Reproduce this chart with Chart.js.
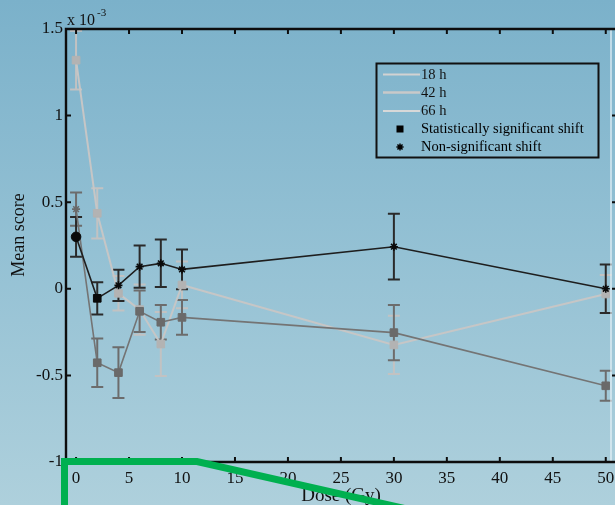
<!DOCTYPE html>
<html>
<head>
<meta charset="utf-8">
<script src="https://cdn.jsdelivr.net/npm/chart.js@4.4.1/dist/chart.umd.min.js"></script>
<style>
  html, body { margin: 0; padding: 0; width: 615px; height: 505px; overflow: hidden; }
  body { background: linear-gradient(180deg, #7bb1ca 0%, #94c1d4 50%, #aed0dc 100%); }
  canvas { display: block; }
</style>
</head>
<body>
<canvas id="chart" width="615" height="505"></canvas>
<script>
// Dose levels (Gy)
const doses = [0, 2, 4, 6, 8, 10, 30, 50];

// Mean score (x 10^-3) and its error, per time point
const mean18h = [0.30, -0.055, 0.02, 0.128, 0.147, 0.112, 0.243, 0.0];
const err18h  = [0.115, 0.093, 0.09, 0.122, 0.137, 0.115, 0.19, 0.14];
const mean42h = [0.46, -0.427, -0.484, -0.13, -0.193, -0.165, -0.253, -0.56];
const err42h  = [0.096, 0.14, 0.147, 0.12, 0.1, 0.1, 0.16, 0.087];
const mean66h = [1.32, 0.436, -0.026, -0.12, -0.319, 0.022, -0.324, -0.03];
const err66h  = [0.17, 0.145, 0.1, 0.145, 0.185, 0.135, 0.168, 0.11];

// Shift significance per point: 'sig' = square, 'ns' = asterisk, 'ctl' = circle
const shift18h = ['ctl', 'sig', 'ns', 'ns', 'ns', 'ns', 'ns', 'ns'];
const shift42h = ['ns', 'sig', 'sig', 'sig', 'sig', 'sig', 'sig', 'sig'];
const shift66h = ['sig', 'sig', 'sig', 'sig', 'sig', 'sig', 'sig', 'sig'];

const seriesLabels = ['18 h', '42 h', '66 h'];
const legendMarkerLabels = ['Statistically significant shift', 'Non-significant shift'];

// Tick labels
const xTickValues = [0, 5, 10, 15, 20, 25, 30, 35, 40, 45, 50];
const yTickValues = [-1, -0.5, 0, 0.5, 1, 1.5];

const SERIF = "'Liberation Serif', 'Times New Roman', serif";

const styleFor = s => s === 'sig' ? 'rect' : (s === 'ns' ? 'star' : 'circle');
const radiusFor = s => s === 'sig' ? 5.4 : (s === 'ns' ? 4 : 4.8);

function makeDataset(label, means, errs, shifts, color, markerFill, lineWidth) {
  return {
    label,
    data: doses.map((d, i) => ({ x: d, y: means[i] })),
    errors: errs,
    borderColor: color,
    borderWidth: lineWidth,
    pointStyle: shifts.map(styleFor),
    pointRadius: shifts.map(radiusFor),
    pointHoverRadius: shifts.map(radiusFor),
    pointBackgroundColor: markerFill,
    pointBorderColor: markerFill,
    pointBorderWidth: shifts.map(s => s === 'ns' ? 1.6 : 1),
    tension: 0,
    fill: false
  };
}

const datasets = [
  makeDataset(seriesLabels[0], mean18h, err18h, shift18h, '#1e1e1e', '#0a0a0a', 1.6),
  makeDataset(seriesLabels[1], mean42h, err42h, shift42h, '#747474', '#6a6a6a', 1.6),
  makeDataset(seriesLabels[2], mean66h, err66h, shift66h, '#c6c6c6', '#b3b3b3', 2)
];
const errorColors = ['#2a2a2a', '#6c6c6c', '#c2c2c2'];

// Vertical error bars with caps, drawn beneath the lines and markers
const errorBars = {
  id: 'errorBars',
  beforeDatasetsDraw(chart) {
    const { ctx, scales: { x, y } } = chart;
    ctx.save();
    for (let k = chart.data.datasets.length - 1; k >= 0; k--) {
      const ds = chart.data.datasets[k];
      ctx.strokeStyle = errorColors[k];
      ctx.lineWidth = 2;
      ds.data.forEach((p, i) => {
        const e = ds.errors[i];
        const px = x.getPixelForValue(p.x);
        const top = y.getPixelForValue(p.y + e);
        const bot = y.getPixelForValue(p.y - e);
        ctx.beginPath();
        ctx.moveTo(px, top); ctx.lineTo(px, bot);
        ctx.moveTo(px - 6, top); ctx.lineTo(px + 6, top);
        ctx.moveTo(px - 6, bot); ctx.lineTo(px + 6, bot);
        ctx.stroke();
      });
    }
    ctx.restore();
  }
};

// Axis frame, inward ticks, titles, exponent note, legend box and the green overlay stroke
const frame = {
  id: 'frame',
  afterDraw(chart) {
    const { ctx, chartArea: a, scales: { x, y } } = chart;
    ctx.save();
    // faint right edge
    ctx.strokeStyle = 'rgba(235,245,250,0.8)';
    ctx.lineWidth = 1.5;
    ctx.beginPath(); ctx.moveTo(a.right + 1, a.top); ctx.lineTo(a.right + 1, a.bottom); ctx.stroke();

    ctx.strokeStyle = '#0d0d0d';
    ctx.lineWidth = 2.4;
    ctx.beginPath();
    ctx.moveTo(615, a.top); ctx.lineTo(a.left, a.top);
    ctx.lineTo(a.left, a.bottom); ctx.lineTo(615, a.bottom);
    ctx.stroke();

    ctx.lineWidth = 2;
    ctx.beginPath();
    xTickValues.forEach(v => {
      const px = x.getPixelForValue(v);
      ctx.moveTo(px, a.bottom); ctx.lineTo(px, a.bottom - 5);
      ctx.moveTo(px, a.top); ctx.lineTo(px, a.top + 5);
    });
    yTickValues.forEach(v => {
      const py = y.getPixelForValue(v);
      ctx.moveTo(a.left, py); ctx.lineTo(a.left + 5, py);
      ctx.moveTo(a.right + 2, py); ctx.lineTo(615, py);
    });
    ctx.stroke();

    ctx.fillStyle = '#111';
    // exponent note
    ctx.font = `16px ${SERIF}`;
    ctx.textAlign = 'left';
    ctx.textBaseline = 'alphabetic';
    ctx.fillText('x 10', 67, 25);
    ctx.font = `11px ${SERIF}`;
    ctx.fillText('-3', 97, 16);

    // axis titles
    ctx.font = `18px ${SERIF}`;
    ctx.textAlign = 'center';
    ctx.textBaseline = 'middle';
    ctx.save();
    ctx.translate(19, 235);
    ctx.rotate(-Math.PI / 2);
    ctx.fillText('Mean score', 0, 0);
    ctx.restore();
    ctx.font = `19px ${SERIF}`;
    ctx.fillText('Dose (Gy)', 341, 496);

    // legend
    ctx.lineWidth = 2;
    ctx.strokeStyle = '#111';
    ctx.strokeRect(376.5, 63.5, 222, 94);
    const legendLineColors = ['#d2d2d2', '#c9c9c9', '#d8d8d8'];
    const rowsY = [74.5, 92.5, 111];
    ctx.font = `14.5px ${SERIF}`;
    ctx.textAlign = 'left';
    seriesLabels.forEach((lab, i) => {
      ctx.strokeStyle = legendLineColors[i];
      ctx.lineWidth = i === 1 ? 2.6 : 2;
      ctx.beginPath(); ctx.moveTo(383, rowsY[i]); ctx.lineTo(420, rowsY[i]); ctx.stroke();
      ctx.fillStyle = '#111';
      ctx.fillText(lab, 421, rowsY[i] + 0.5);
    });
    ctx.fillStyle = '#000';
    ctx.fillRect(396.5, 125.5, 7, 7);
    ctx.fillText(legendMarkerLabels[0], 421, 129.5);
    ctx.strokeStyle = '#000';
    ctx.lineWidth = 1.5;
    Chart.helpers.drawPoint(ctx, { pointStyle: 'star', radius: 3.6, borderWidth: 1.5 }, 400, 147);
    ctx.fillText(legendMarkerLabels[1], 421, 147.5);

    // green overlay stroke
    ctx.strokeStyle = '#00b050';
    ctx.lineWidth = 7;
    ctx.lineJoin = 'miter';
    ctx.beginPath();
    ctx.moveTo(64.5, 512);
    ctx.lineTo(64.5, 461.5);
    ctx.lineTo(197, 461.5);
    ctx.lineTo(420, 512);
    ctx.stroke();
    ctx.restore();
  }
};

new Chart(document.getElementById('chart'), {
  type: 'line',
  data: { datasets },
  options: {
    responsive: false,
    animation: false,
    events: [],
    layout: { autoPadding: false, padding: { top: 29, right: 5, left: 0, bottom: 0 } },
    plugins: { legend: { display: false }, tooltip: { enabled: false } },
    scales: {
      x: {
        type: 'linear',
        min: -0.95,
        max: 50.4,
        afterBuildTicks: s => { s.ticks = xTickValues.map(v => ({ value: v })); },
        afterFit: s => { s.height = 43; s.paddingLeft = 0; s.paddingRight = 0; },
        grid: { display: false, drawTicks: false },
        border: { display: false },
        ticks: { padding: 6, color: '#111', font: { family: SERIF, size: 17 }, callback: v => String(v), maxRotation: 0, autoSkip: false }
      },
      y: {
        type: 'linear',
        min: -1,
        max: 1.5,
        afterBuildTicks: s => { s.ticks = yTickValues.map(v => ({ value: v })); },
        afterFit: s => { s.width = 66; s.paddingTop = 0; s.paddingBottom = 0; },
        grid: { display: false, drawTicks: false },
        border: { display: false },
        ticks: { padding: 3, color: '#111', font: { family: SERIF, size: 17 }, callback: v => String(v), autoSkip: false }
      }
    }
  },
  plugins: [errorBars, frame]
});
</script>
</body>
</html>
